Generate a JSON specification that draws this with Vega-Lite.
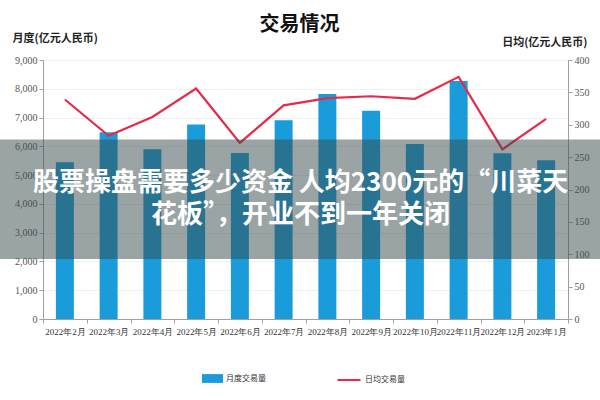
{
  "$schema": "https://vega.github.io/schema/vega-lite/v6.json",
  "width": 525,
  "height": 259,
  "autosize": {"type": "none"},
  "padding": {"left": 43, "top": 60, "right": 32, "bottom": 81},
  "background": "white",
  "title": {"text": "交易情况", "font": "Noto Sans CJK SC", "fontSize": 20, "fontWeight": "bold", "color": "#111111", "anchor": "middle", "dx": -6, "dy": 7},
  "config": {
    "view": {"stroke": null},
    "font": "Noto Sans CJK SC",
    "axis": {"labelFont": "Liberation Sans Narrow", "labelFontSize": 10, "labelColor": "#555555", "domainColor": "#a0a0a0", "tickColor": "#a0a0a0", "tickSize": 4, "gridColor": "#efefef"}
  },
  "data": {"values": [
    {"month": "2022年2月", "monthly": 5450, "daily": 339},
    {"month": "2022年3月", "monthly": 6490, "daily": 283},
    {"month": "2022年4月", "monthly": 5900, "daily": 312},
    {"month": "2022年5月", "monthly": 6760, "daily": 356},
    {"month": "2022年6月", "monthly": 5770, "daily": 272},
    {"month": "2022年7月", "monthly": 6910, "daily": 330},
    {"month": "2022年8月", "monthly": 7820, "daily": 341},
    {"month": "2022年9月", "monthly": 7240, "daily": 344},
    {"month": "2022年10月", "monthly": 6080, "daily": 340},
    {"month": "2022年11月", "monthly": 8270, "daily": 374},
    {"month": "2022年12月", "monthly": 5760, "daily": 262},
    {"month": "2023年1月", "monthly": 5520, "daily": 309}
  ]},
  "layer": [
    {
      "mark": {"type": "bar", "size": 18},
      "encoding": {
        "x": {"field": "month", "type": "nominal", "sort": null, "title": null,
              "scale": {"paddingInner": 0, "paddingOuter": 0},
              "axis": {"labelAngle": 0, "tickBand": "extent", "labelPadding": 4, "labelColor": "#333333", "labelFont": "Liberation Sans Narrow", "labelFontSize": 9}},
        "y": {"field": "monthly", "type": "quantitative", "scale": {"domain": [0, 9000]},
              "axis": {"values": [0,1000,2000,3000,4000,5000,6000,7000,8000,9000], "format": ",d", "grid": true,
                       "title": "月度(亿元人民币)", "titleAngle": 0, "titleAlign": "left", "titleBaseline": "middle",
                       "titleX": -31, "titleY": -22, "titleFontSize": 11, "titleFontWeight": "bold", "titleColor": "#222222", "titleFont": "Noto Sans CJK SC"}},
        "color": {"datum": "月度交易量", "scale": {"range": ["#1a9cdb"]},
                  "legend": {"orient": "none", "legendX": 159, "legendY": 308, "title": null, "symbolType": "M-1,-0.42H1V0.42H-1Z", "symbolSize": 441, "symbolStrokeWidth": 0, "labelOffset": 3, "labelFontSize": 8, "labelColor": "#333333", "labelFont": "Noto Sans CJK SC"}}
      }
    },
    {
      "mark": {"type": "line", "strokeWidth": 2.2},
      "encoding": {
        "x": {"field": "month", "type": "nominal", "sort": null},
        "y": {"field": "daily", "type": "quantitative", "scale": {"domain": [0, 400]},
              "axis": {"orient": "right", "values": [0,50,100,150,200,250,300,350,400], "grid": false,
                       "title": "日均(亿元人民币)", "titleAngle": 0, "titleAlign": "right", "titleBaseline": "middle",
                       "titleX": 19, "titleY": -18, "titleFontSize": 11, "titleFontWeight": "bold", "titleColor": "#222222", "titleFont": "Noto Sans CJK SC"}},
        "stroke": {"datum": "日均交易量", "scale": {"range": ["#e8294a"]},
                   "legend": {"orient": "none", "legendX": 293, "legendY": 307, "title": null, "symbolType": "stroke", "symbolSize": 530, "symbolStrokeWidth": 2, "labelOffset": 3, "labelFontSize": 8, "labelColor": "#333333", "labelFont": "Noto Sans CJK SC"}}
      }
    },
    {
      "data": {"values": [{}]},
      "mark": {"type": "rect", "color": "#384a4a", "opacity": 0.5, "xOffset": -43, "x2Offset": 32},
      "encoding": {
        "x": {"datum": "2022年2月", "type": "nominal", "bandPosition": 0},
        "x2": {"datum": "2023年1月", "bandPosition": 1},
        "y": {"datum": 6237, "type": "quantitative", "scale": {"domain": [0, 9000]}, "axis": null},
        "y2": {"datum": 2085}
      }
    },
    {
      "data": {"values": [{}]},
      "mark": {"type": "text", "text": ["股票操盘需要多少资金 人均2300元的“川菜天", "花板”，开业不到一年关闭"], "font": "Noto Sans CJK SC", "fontSize": 26, "fontWeight": "bold", "color": "white", "lineHeight": 32, "align": "center", "baseline": "middle", "dx": -5},
      "encoding": {
        "y": {"datum": 4725, "type": "quantitative", "scale": {"domain": [0, 9000]}, "axis": null}
      }
    }
  ],
  "resolve": {"scale": {"y": "independent", "color": "independent", "stroke": "independent"}}
}
